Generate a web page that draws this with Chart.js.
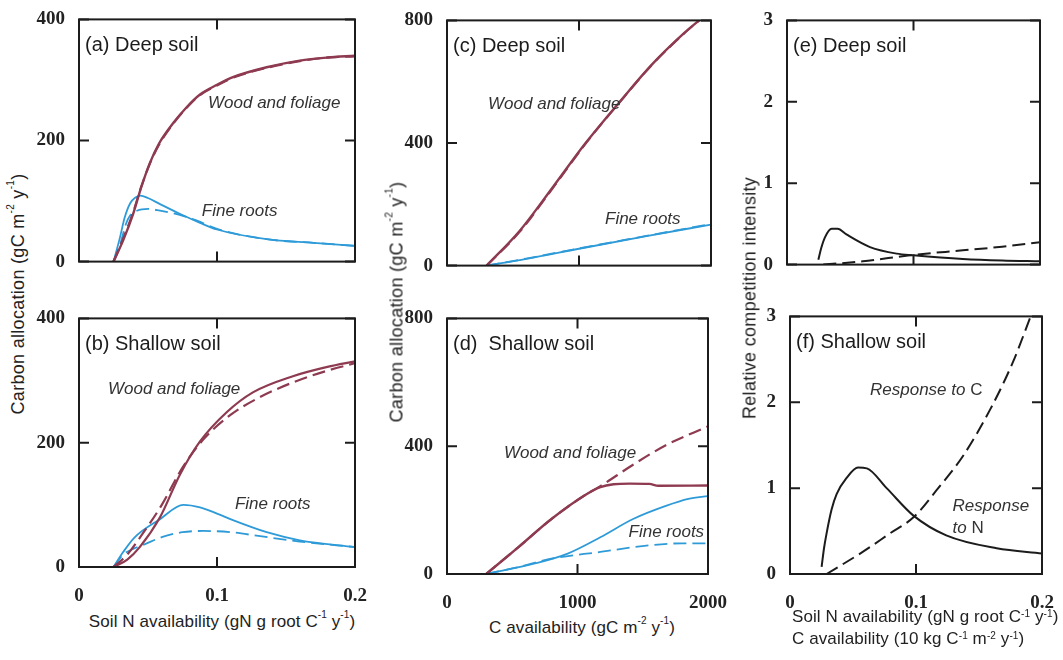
<!DOCTYPE html>
<html>
<head>
<meta charset="utf-8">
<script src="https://cdn.jsdelivr.net/npm/chart.js@4.4.0/dist/chart.umd.min.js"></script>
<style>
  body { margin: 0; background: #fff; width: 1063px; height: 660px; position: relative; overflow: hidden;
         font-family: "Liberation Sans", Arial, sans-serif; color: #222; }
  .panel { position: absolute; }
  .lab { position: absolute; white-space: nowrap; font-size: 17px; letter-spacing: 0.1px; }
  .ylab { font-size: 18px; letter-spacing: 0.3px; transform: translate(-50%, -50%) rotate(-90deg); }
  .xlab { transform: translate(-50%, -50%); }
  sup { font-size: 10px; vertical-align: top; position: relative; top: -3px; }
</style>
</head>
<body>
<div id="a" class="panel"><canvas></canvas></div>
<div id="b" class="panel"><canvas></canvas></div>
<div id="c" class="panel"><canvas></canvas></div>
<div id="d" class="panel"><canvas></canvas></div>
<div id="e" class="panel"><canvas></canvas></div>
<div id="f" class="panel"><canvas></canvas></div>

<div class="lab ylab" style="left:18px;top:294px">Carbon allocation (gC m<sup>-2</sup> y<sup>-1</sup>)</div>
<div class="lab ylab" style="left:397px;top:302px">Carbon allocation (gC m<sup>-2</sup> y<sup>-1</sup>)</div>
<div class="lab ylab" style="left:750px;top:298px">Relative competition intensity</div>
<div class="lab xlab" style="left:222px;top:622px">Soil N availability (gN g root C<sup>-1</sup> y<sup>-1</sup>)</div>
<div class="lab xlab" style="left:582px;top:628px">C availability (gC m<sup>-2</sup> y<sup>-1</sup>)</div>
<div class="lab" style="left:792px;top:606px;line-height:22px">Soil N availability (gN g root C<sup>-1</sup> y<sup>-1</sup>)<br>C availability (10 kg C<sup>-1</sup> m<sup>-2</sup> y<sup>-1</sup>)</div>

<script>
// ----------------------
// TICKS
// ----------------------
const nAvailTicks = [0, 0.1, 0.2];
const cAvailTicks = [0, 1000, 2000];
const allocTicksN = [0, 200, 400];
const allocTicksC = [0, 400, 800];
const competitionTicks = [0, 1, 2, 3];

// ----------------------
// (a) deep soil vs soil N  [x, y]
// ----------------------
const aWoodSolid = [[0.025,0],[0.032,35],[0.039,77],[0.045,122],[0.0514,163],[0.058,195],[0.068,228],[0.078,255],[0.0877,276],[0.1,292],[0.112,305],[0.136,321],[0.16,332],[0.18,337],[0.2,340]];
const aWoodDashed = [[0.025,0],[0.032,38],[0.039,80],[0.045,123],[0.0514,162],[0.058,193],[0.068,227],[0.078,254],[0.0877,275],[0.1,291],[0.112,304],[0.136,320],[0.16,331],[0.18,337],[0.2,339]];
const aRootSolid = [[0.025,0],[0.0297,40],[0.033,72],[0.037,96],[0.041,106],[0.0445,109],[0.05,105],[0.0587,95],[0.073,79],[0.0877,64],[0.1,53],[0.136,37],[0.17,31],[0.2,26]];
const aRootDashed = [[0.025,0],[0.03,30],[0.034,62],[0.037,76],[0.042,84],[0.0502,87],[0.0587,84],[0.073,77],[0.085,68],[0.1,54],[0.136,37],[0.17,31],[0.2,26]];

// ----------------------
// (b) shallow soil vs soil N
// ----------------------
const bWoodSolid = [[0.025,0],[0.035,12],[0.044,32],[0.0587,80],[0.0732,149],[0.0877,202],[0.107,249],[0.126,281],[0.155,307],[0.18,322],[0.2,331]];
const bWoodDashed = [[0.025,0],[0.035,20],[0.045,50],[0.06,100],[0.075,160],[0.09,205],[0.11,245],[0.13,272],[0.155,297],[0.18,316],[0.2,328]];
const bRootSolid = [[0.025,0],[0.032,24],[0.04,47],[0.0587,77],[0.0756,100],[0.0877,96],[0.1,86],[0.112,75],[0.136,56],[0.16,43],[0.2,32]];
const bRootDashed = [[0.025,0],[0.032,20],[0.04,30],[0.047,36],[0.06,48],[0.075,56],[0.09,58],[0.11,56],[0.13,50],[0.16,41],[0.2,32]];

// ----------------------
// (c) deep soil vs C
// ----------------------
const cWoodSolid = [[300,0],[550,113],[800,255],[1050,400],[1300,530],[1550,655],[1800,760],[1910,800]];
const cWoodDashed = [[300,0],[550,110],[800,252],[1050,398],[1300,529],[1550,654],[1800,759],[1910,800]];
const cRootSolid = [[300,0],[600,22],[1000,55],[1500,95],[2000,134]];
const cRootDashed = [[300,0],[600,23],[1000,56],[1500,96],[2000,136]];

// ----------------------
// (d) shallow soil vs C
// ----------------------
const dWoodSolid = [[300,0],[550,85],[800,172],[1050,245],[1175,272],[1276,281],[1400,283],[1550,282],[1620,276],[2000,277]];
const dWoodDashed = [[300,0],[550,85],[800,172],[1050,245],[1175,275],[1426,342],[1677,403],[2000,462]];
const dRootSolid = [[300,0],[674,33],[925,64],[1175,115],[1426,172],[1677,213],[1850,235],[2000,244]];
const dRootDashed = [[300,0],[550,22],[799,48],[1175,69],[1551,90],[1803,96],[2000,96]];

// ----------------------
// (e) (f) competition intensity
// ----------------------
const eResponseN = [[0.0248,0.06],[0.027,0.2],[0.03,0.335],[0.0353,0.44],[0.04,0.44],[0.047,0.37],[0.0656,0.215],[0.0867,0.135],[0.1,0.115],[0.139,0.07],[0.17,0.05],[0.2,0.04]];
const eResponseC = [[0.0287,0],[0.06,0.04],[0.08,0.08],[0.1,0.12],[0.139,0.175],[0.17,0.22],[0.2,0.275]];
const fResponseN = [[0.0251,0.084],[0.027,0.3],[0.029,0.47],[0.033,0.75],[0.037,0.93],[0.045,1.12],[0.054,1.24],[0.061,1.23],[0.0767,1.0],[0.098,0.68],[0.124,0.45],[0.164,0.3],[0.2,0.24]];
const fResponseC = [[0.029,0],[0.058,0.26],[0.079,0.47],[0.098,0.66],[0.116,0.97],[0.138,1.39],[0.159,1.92],[0.177,2.47],[0.191,3.0]];

const WOOD = "#8e3a50", ROOT = "#2e9bd8", INK = "#1c1c1c";
const DASH = [13, 6];
const TICK = 10;

function solid(data, color, w) {
    return { data: data.map(p => ({ x: p[0], y: p[1] })), borderColor: color, borderWidth: w,
             pointRadius: 0, cubicInterpolationMode: "monotone", fill: false };
}
function dashed(data, color, w) {
    return Object.assign(solid(data, color, w), { borderDash: DASH });
}

const panels = [
    { id: "a", box: [79, 16, 355, 265], bottomRow: false, xTicks: nAvailTicks, yTicks: allocTicksN,
      title: "(a) Deep soil",
      datasets: [dashed(aWoodDashed, WOOD, 2.2), solid(aWoodSolid, WOOD, 2.4), dashed(aRootDashed, ROOT, 1.8), solid(aRootSolid, ROOT, 1.8)],
      notes: [{ x: 0.0935, y: 262, parts: [["Wood and foliage", true]] }, { x: 0.089, y: 83, parts: [["Fine roots", true]] }] },
    { id: "b", box: [79, 315, 355, 567], bottomRow: true, xTicks: nAvailTicks, yTicks: allocTicksN,
      title: "(b) Shallow soil",
      datasets: [dashed(bWoodDashed, WOOD, 2.2), solid(bWoodSolid, WOOD, 2.2), dashed(bRootDashed, ROOT, 1.8), solid(bRootSolid, ROOT, 1.8)],
      notes: [{ x: 0.021, y: 286, parts: [["Wood and foliage", true]] }, { x: 0.113, y: 101, parts: [["Fine roots", true]] }] },
    { id: "c", box: [447, 17, 711, 269], bottomRow: false, xTicks: cAvailTicks, yTicks: allocTicksC,
      title: "(c) Deep soil",
      datasets: [dashed(cWoodDashed, WOOD, 2.2), solid(cWoodSolid, WOOD, 2.4), dashed(cRootDashed, ROOT, 1.8), solid(cRootSolid, ROOT, 1.8)],
      notes: [{ x: 311, y: 527, parts: [["Wood and foliage", true]] }, { x: 1197, y: 152, parts: [["Fine roots", true]] }] },
    { id: "d", box: [447, 315, 713, 574], bottomRow: true, xTicks: cAvailTicks, yTicks: allocTicksC,
      title: "(d)  Shallow soil",
      datasets: [dashed(dWoodDashed, WOOD, 2.2), solid(dWoodSolid, WOOD, 2.4), dashed(dRootDashed, ROOT, 1.8), solid(dRootSolid, ROOT, 1.8)],
      notes: [{ x: 436, y: 377, parts: [["Wood and foliage", true]] }, { x: 1391, y: 130, parts: [["Fine roots", true]] }] },
    { id: "e", box: [787, 17, 1040, 268], bottomRow: false, xTicks: nAvailTicks, yTicks: competitionTicks,
      title: "(e) Deep soil",
      datasets: [dashed(eResponseC, INK, 2), solid(eResponseN, INK, 2)],
      notes: [] },
    { id: "f", box: [790, 313, 1042, 574], bottomRow: true, xTicks: nAvailTicks, yTicks: competitionTicks,
      title: "(f) Shallow soil",
      datasets: [dashed(fResponseC, INK, 2), solid(fResponseN, INK, 2)],
      notes: [{ x: 0.0635, y: 2.14, parts: [["Response to", true], [" C", false]] },
              { x: 0.129, y: 0.79, parts: [["Response", true]] },
              { x: 0.129, y: 0.53, parts: [["to", true], [" N", false]] }] }
];

// frame, inner ticks, panel title and curve labels
function framePlugin(p) {
    return {
        id: "frame" + p.id,
        afterDraw(chart) {
            const { ctx, chartArea: ca, scales } = chart;
            ctx.save();
            ctx.strokeStyle = INK;
            ctx.lineWidth = 2;
            ctx.strokeRect(ca.left, ca.top, ca.width, ca.height);
            ctx.beginPath();
            scales.x.ticks.forEach(t => {
                const px = scales.x.getPixelForValue(t.value);
                ctx.moveTo(px, ca.bottom); ctx.lineTo(px, ca.bottom - TICK);
                ctx.moveTo(px, ca.top); ctx.lineTo(px, ca.top + TICK);
            });
            scales.y.ticks.forEach(t => {
                const py = scales.y.getPixelForValue(t.value);
                ctx.moveTo(ca.left, py); ctx.lineTo(ca.left + TICK, py);
                ctx.moveTo(ca.right, py); ctx.lineTo(ca.right - TICK, py);
            });
            ctx.stroke();

            ctx.fillStyle = INK;
            ctx.textBaseline = "middle";
            ctx.font = '20px "Liberation Sans", Arial, sans-serif';
            ctx.fillText(p.title, ca.left + 6, ca.top + 26);

            ctx.fillStyle = "#333";
            p.notes.forEach(n => {
                let px = scales.x.getPixelForValue(n.x);
                const py = scales.y.getPixelForValue(n.y);
                n.parts.forEach(([txt, italic]) => {
                    ctx.font = (italic ? "italic " : "") + '17px "Liberation Sans", Arial, sans-serif';
                    ctx.fillText(txt, px, py);
                    px += ctx.measureText(txt).width;
                });
            });
            ctx.restore();
        }
    };
}

Chart.defaults.font.family = "'Liberation Serif', 'Times New Roman', Times, serif";
Chart.defaults.color = "#222";

const PAD_L = 50, PAD_T = 14, PAD_R = 24;
const tickFont = { size: 19, weight: "bold" };

panels.forEach(p => {
    const [l, t, r, b] = p.box;
    const padB = p.bottomRow ? 36 : 14;
    const holder = document.getElementById(p.id);
    const canvas = holder.querySelector("canvas");
    const w = r - l + PAD_L + PAD_R, h = b - t + PAD_T + padB;
    holder.style.left = (l - PAD_L) + "px";
    holder.style.top = (t - PAD_T) + "px";
    canvas.width = w;
    canvas.height = h;

    new Chart(canvas, {
        type: "line",
        data: { datasets: p.datasets },
        options: {
            responsive: false,
            animation: false,
            layout: { padding: { left: 0, top: PAD_T, right: PAD_R, bottom: 0 } },
            plugins: { legend: { display: false }, tooltip: { enabled: false } },
            scales: {
                x: {
                    type: "linear",
                    min: p.xTicks[0], max: p.xTicks[p.xTicks.length - 1],
                    grid: { display: false }, border: { display: false },
                    afterBuildTicks: s => { s.ticks = p.xTicks.map(v => ({ value: v })); },
                    afterFit: s => { s.height = padB; },
                    ticks: { display: p.bottomRow, autoSkip: false, maxRotation: 0, padding: 10,
                             font: tickFont, callback: v => String(v) }
                },
                y: {
                    min: p.yTicks[0], max: p.yTicks[p.yTicks.length - 1],
                    grid: { display: false }, border: { display: false },
                    afterBuildTicks: s => { s.ticks = p.yTicks.map(v => ({ value: v })); },
                    afterFit: s => { s.width = PAD_L; },
                    ticks: { autoSkip: false, padding: 6, font: tickFont, callback: v => String(v) }
                }
            }
        },
        plugins: [framePlugin(p)]
    });
});
</script>
</body>
</html>
